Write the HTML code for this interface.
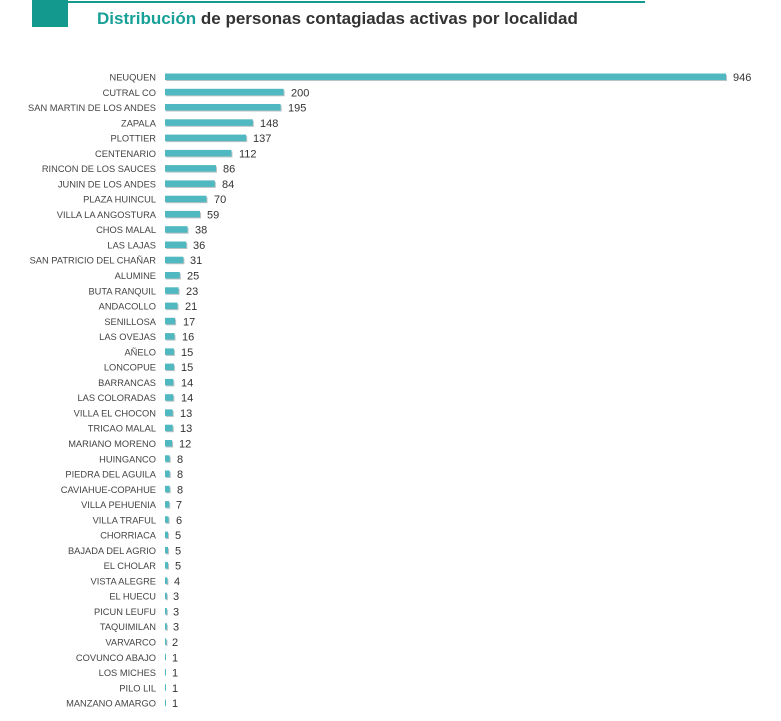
<!DOCTYPE html>
<html><head><meta charset="utf-8"><style>
html,body{margin:0;padding:0;background:#fff;width:781px;height:721px;overflow:hidden}
.l{font-family:"Liberation Sans",sans-serif;font-size:9.3px;fill:#444;text-anchor:end}
.v{font-family:"Liberation Sans",sans-serif;font-size:11px;fill:#333}
.b{fill:#4fb8c0}
.s{fill:#8a9a9c;opacity:.6}
</style></head><body>
<svg width="781" height="721" xmlns="http://www.w3.org/2000/svg">
<rect x="32" y="0" width="36" height="27" fill="#14998f"/>
<rect x="68" y="1" width="577" height="2" fill="#14998f"/>
<text x="97" y="24" font-family="Liberation Sans,sans-serif" font-size="17" font-weight="bold" fill="#333"><tspan fill="#17a097">Distribución</tspan> de personas contagiadas activas por localidad</text>
<defs>
<g id="x"></g>
</defs>
<g transform="translate(0,77)"><text x="156" y="3.5" class="l">NEUQUEN</text><rect x="166" y="-2" width="561" height="6" class="s"/><rect x="165" y="-3.5" width="561" height="6.5" class="b"/><text x="733" y="4" class="v">946</text></g>
<g transform="translate(0,92.3)"><text x="156" y="3.5" class="l">CUTRAL CO</text><rect x="166" y="-2" width="118.6" height="6" class="s"/><rect x="165" y="-3.5" width="118.6" height="6.5" class="b"/><text x="291" y="4" class="v">200</text></g>
<g transform="translate(0,107.5)"><text x="156" y="3.5" class="l">SAN MARTIN DE LOS ANDES</text><rect x="166" y="-2" width="115.6" height="6" class="s"/><rect x="165" y="-3.5" width="115.6" height="6.5" class="b"/><text x="288" y="4" class="v">195</text></g>
<g transform="translate(0,122.8)"><text x="156" y="3.5" class="l">ZAPALA</text><rect x="166" y="-2" width="87.8" height="6" class="s"/><rect x="165" y="-3.5" width="87.8" height="6.5" class="b"/><text x="260" y="4" class="v">148</text></g>
<g transform="translate(0,138.1)"><text x="156" y="3.5" class="l">PLOTTIER</text><rect x="166" y="-2" width="81.2" height="6" class="s"/><rect x="165" y="-3.5" width="81.2" height="6.5" class="b"/><text x="253" y="4" class="v">137</text></g>
<g transform="translate(0,153.4)"><text x="156" y="3.5" class="l">CENTENARIO</text><rect x="166" y="-2" width="66.4" height="6" class="s"/><rect x="165" y="-3.5" width="66.4" height="6.5" class="b"/><text x="239" y="4" class="v">112</text></g>
<g transform="translate(0,168.6)"><text x="156" y="3.5" class="l">RINCON DE LOS SAUCES</text><rect x="166" y="-2" width="51" height="6" class="s"/><rect x="165" y="-3.5" width="51" height="6.5" class="b"/><text x="223" y="4" class="v">86</text></g>
<g transform="translate(0,183.9)"><text x="156" y="3.5" class="l">JUNIN DE LOS ANDES</text><rect x="166" y="-2" width="49.8" height="6" class="s"/><rect x="165" y="-3.5" width="49.8" height="6.5" class="b"/><text x="222" y="4" class="v">84</text></g>
<g transform="translate(0,199.2)"><text x="156" y="3.5" class="l">PLAZA HUINCUL</text><rect x="166" y="-2" width="41.5" height="6" class="s"/><rect x="165" y="-3.5" width="41.5" height="6.5" class="b"/><text x="214" y="4" class="v">70</text></g>
<g transform="translate(0,214.4)"><text x="156" y="3.5" class="l">VILLA LA ANGOSTURA</text><rect x="166" y="-2" width="35" height="6" class="s"/><rect x="165" y="-3.5" width="35" height="6.5" class="b"/><text x="207" y="4" class="v">59</text></g>
<g transform="translate(0,229.7)"><text x="156" y="3.5" class="l">CHOS MALAL</text><rect x="166" y="-2" width="22.5" height="6" class="s"/><rect x="165" y="-3.5" width="22.5" height="6.5" class="b"/><text x="195" y="4" class="v">38</text></g>
<g transform="translate(0,245)"><text x="156" y="3.5" class="l">LAS LAJAS</text><rect x="166" y="-2" width="21.3" height="6" class="s"/><rect x="165" y="-3.5" width="21.3" height="6.5" class="b"/><text x="193" y="4" class="v">36</text></g>
<g transform="translate(0,260.2)"><text x="156" y="3.5" class="l">SAN PATRICIO DEL CHAÑAR</text><rect x="166" y="-2" width="18.4" height="6" class="s"/><rect x="165" y="-3.5" width="18.4" height="6.5" class="b"/><text x="190" y="4" class="v">31</text></g>
<g transform="translate(0,275.5)"><text x="156" y="3.5" class="l">ALUMINE</text><rect x="166" y="-2" width="14.8" height="6" class="s"/><rect x="165" y="-3.5" width="14.8" height="6.5" class="b"/><text x="187" y="4" class="v">25</text></g>
<g transform="translate(0,290.8)"><text x="156" y="3.5" class="l">BUTA RANQUIL</text><rect x="166" y="-2" width="13.6" height="6" class="s"/><rect x="165" y="-3.5" width="13.6" height="6.5" class="b"/><text x="186" y="4" class="v">23</text></g>
<g transform="translate(0,306.1)"><text x="156" y="3.5" class="l">ANDACOLLO</text><rect x="166" y="-2" width="12.5" height="6" class="s"/><rect x="165" y="-3.5" width="12.5" height="6.5" class="b"/><text x="185" y="4" class="v">21</text></g>
<g transform="translate(0,321.3)"><text x="156" y="3.5" class="l">SENILLOSA</text><rect x="166" y="-2" width="10.1" height="6" class="s"/><rect x="165" y="-3.5" width="10.1" height="6.5" class="b"/><text x="183" y="4" class="v">17</text></g>
<g transform="translate(0,336.6)"><text x="156" y="3.5" class="l">LAS OVEJAS</text><rect x="166" y="-2" width="9.5" height="6" class="s"/><rect x="165" y="-3.5" width="9.5" height="6.5" class="b"/><text x="182" y="4" class="v">16</text></g>
<g transform="translate(0,351.9)"><text x="156" y="3.5" class="l">AÑELO</text><rect x="166" y="-2" width="8.9" height="6" class="s"/><rect x="165" y="-3.5" width="8.9" height="6.5" class="b"/><text x="181" y="4" class="v">15</text></g>
<g transform="translate(0,367.1)"><text x="156" y="3.5" class="l">LONCOPUE</text><rect x="166" y="-2" width="8.9" height="6" class="s"/><rect x="165" y="-3.5" width="8.9" height="6.5" class="b"/><text x="181" y="4" class="v">15</text></g>
<g transform="translate(0,382.4)"><text x="156" y="3.5" class="l">BARRANCAS</text><rect x="166" y="-2" width="8.3" height="6" class="s"/><rect x="165" y="-3.5" width="8.3" height="6.5" class="b"/><text x="181" y="4" class="v">14</text></g>
<g transform="translate(0,397.7)"><text x="156" y="3.5" class="l">LAS COLORADAS</text><rect x="166" y="-2" width="8.3" height="6" class="s"/><rect x="165" y="-3.5" width="8.3" height="6.5" class="b"/><text x="181" y="4" class="v">14</text></g>
<g transform="translate(0,412.9)"><text x="156" y="3.5" class="l">VILLA EL CHOCON</text><rect x="166" y="-2" width="7.7" height="6" class="s"/><rect x="165" y="-3.5" width="7.7" height="6.5" class="b"/><text x="180" y="4" class="v">13</text></g>
<g transform="translate(0,428.2)"><text x="156" y="3.5" class="l">TRICAO MALAL</text><rect x="166" y="-2" width="7.7" height="6" class="s"/><rect x="165" y="-3.5" width="7.7" height="6.5" class="b"/><text x="180" y="4" class="v">13</text></g>
<g transform="translate(0,443.5)"><text x="156" y="3.5" class="l">MARIANO MORENO</text><rect x="166" y="-2" width="7.1" height="6" class="s"/><rect x="165" y="-3.5" width="7.1" height="6.5" class="b"/><text x="179" y="4" class="v">12</text></g>
<g transform="translate(0,458.8)"><text x="156" y="3.5" class="l">HUINGANCO</text><rect x="166" y="-2" width="4.7" height="6" class="s"/><rect x="165" y="-3.5" width="4.7" height="6.5" class="b"/><text x="177" y="4" class="v">8</text></g>
<g transform="translate(0,474)"><text x="156" y="3.5" class="l">PIEDRA DEL AGUILA</text><rect x="166" y="-2" width="4.7" height="6" class="s"/><rect x="165" y="-3.5" width="4.7" height="6.5" class="b"/><text x="177" y="4" class="v">8</text></g>
<g transform="translate(0,489.3)"><text x="156" y="3.5" class="l">CAVIAHUE-COPAHUE</text><rect x="166" y="-2" width="4.7" height="6" class="s"/><rect x="165" y="-3.5" width="4.7" height="6.5" class="b"/><text x="177" y="4" class="v">8</text></g>
<g transform="translate(0,504.6)"><text x="156" y="3.5" class="l">VILLA PEHUENIA</text><rect x="166" y="-2" width="4.2" height="6" class="s"/><rect x="165" y="-3.5" width="4.2" height="6.5" class="b"/><text x="176" y="4" class="v">7</text></g>
<g transform="translate(0,519.8)"><text x="156" y="3.5" class="l">VILLA TRAFUL</text><rect x="166" y="-2" width="3.6" height="6" class="s"/><rect x="165" y="-3.5" width="3.6" height="6.5" class="b"/><text x="176" y="4" class="v">6</text></g>
<g transform="translate(0,535.1)"><text x="156" y="3.5" class="l">CHORRIACA</text><rect x="166" y="-2" width="3" height="6" class="s"/><rect x="165" y="-3.5" width="3" height="6.5" class="b"/><text x="175" y="4" class="v">5</text></g>
<g transform="translate(0,550.4)"><text x="156" y="3.5" class="l">BAJADA DEL AGRIO</text><rect x="166" y="-2" width="3" height="6" class="s"/><rect x="165" y="-3.5" width="3" height="6.5" class="b"/><text x="175" y="4" class="v">5</text></g>
<g transform="translate(0,565.6)"><text x="156" y="3.5" class="l">EL CHOLAR</text><rect x="166" y="-2" width="3" height="6" class="s"/><rect x="165" y="-3.5" width="3" height="6.5" class="b"/><text x="175" y="4" class="v">5</text></g>
<g transform="translate(0,580.9)"><text x="156" y="3.5" class="l">VISTA ALEGRE</text><rect x="166" y="-2" width="2.4" height="6" class="s"/><rect x="165" y="-3.5" width="2.4" height="6.5" class="b"/><text x="174" y="4" class="v">4</text></g>
<g transform="translate(0,596.2)"><text x="156" y="3.5" class="l">EL HUECU</text><rect x="166" y="-2" width="1.8" height="6" class="s"/><rect x="165" y="-3.5" width="1.8" height="6.5" class="b"/><text x="173" y="4" class="v">3</text></g>
<g transform="translate(0,611.5)"><text x="156" y="3.5" class="l">PICUN LEUFU</text><rect x="166" y="-2" width="1.8" height="6" class="s"/><rect x="165" y="-3.5" width="1.8" height="6.5" class="b"/><text x="173" y="4" class="v">3</text></g>
<g transform="translate(0,626.7)"><text x="156" y="3.5" class="l">TAQUIMILAN</text><rect x="166" y="-2" width="1.8" height="6" class="s"/><rect x="165" y="-3.5" width="1.8" height="6.5" class="b"/><text x="173" y="4" class="v">3</text></g>
<g transform="translate(0,642)"><text x="156" y="3.5" class="l">VARVARCO</text><rect x="166" y="-2" width="1.4" height="6" class="s"/><rect x="165" y="-3.5" width="1.4" height="6.5" class="b"/><text x="172" y="4" class="v">2</text></g>
<g transform="translate(0,657.3)"><text x="156" y="3.5" class="l">COVUNCO ABAJO</text><rect x="165" y="-3.5" width="1" height="6.5" class="b"/><text x="172" y="4" class="v">1</text></g>
<g transform="translate(0,672.5)"><text x="156" y="3.5" class="l">LOS MICHES</text><rect x="165" y="-3.5" width="1" height="6.5" class="b"/><text x="172" y="4" class="v">1</text></g>
<g transform="translate(0,687.8)"><text x="156" y="3.5" class="l">PILO LIL</text><rect x="165" y="-3.5" width="1" height="6.5" class="b"/><text x="172" y="4" class="v">1</text></g>
<g transform="translate(0,703.1)"><text x="156" y="3.5" class="l">MANZANO AMARGO</text><rect x="165" y="-3.5" width="1" height="6.5" class="b"/><text x="172" y="4" class="v">1</text></g>
</svg>
</body></html>
